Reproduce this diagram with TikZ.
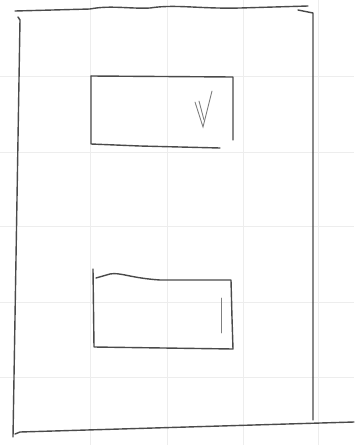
\documentclass[tikz,border=0pt]{standalone}
\usepackage{tikz}
\usetikzlibrary{calc}

\definecolor{pencil}{HTML}{4A4A4A}
\definecolor{gridpaper}{HTML}{EDEDED}

\begin{document}
\begin{tikzpicture}[x=1pt, y=-1pt,
    stroke/.style={draw=pencil, line width=1.4pt, line cap=round, line join=round},
    tick/.style={draw=pencil!70, line width=0.9pt, line cap=round},
    paper/.style={draw=gridpaper, line width=0.8pt}]
        \useasboundingbox (0,0) rectangle (354,445);
        
        % Grid paper
        \foreach \gx in {90,167,243,318} {
            \draw[paper] (\gx,0) -- (\gx,445);
        }
        \foreach \gy in {76,152,226,302,377} {
            \draw[paper] (0,\gy) -- (354,\gy);
        }
        
        % Outer frame
        \draw[stroke] (15,11) -- (90,9) .. controls (110,5) and (130,9) .. (150,8)
            .. controls (175,4) and (200,9) .. (240,8) -- (308,6);
        \draw[stroke] (18,17) -- (20,20) -- (13,437);
        \draw[stroke] (15,434) -- (20,432) -- (354,422);
        \draw[stroke] (298,10) -- (313,13) -- (313,420);
        
        % Upper box
        \draw[stroke] (91,76) -- (233,77) -- (233,140);
        \draw[stroke] (91,76) -- (91,144) -- (140,146) -- (220,148);
        \draw[tick] (195,102) -- (203,127) -- (212,91);
        \draw[tick] (199,101) -- (204,120);
        
        % Lower box
        \draw[stroke] (93,269) -- (94,347) -- (233,349) -- (232,318) -- (231,280) -- (160,280)
            .. controls (130,278) and (120,272) .. (110,274) -- (96,278);
        \draw[tick] (221,298) -- (221,333);
      \end{tikzpicture}
\end{document}
